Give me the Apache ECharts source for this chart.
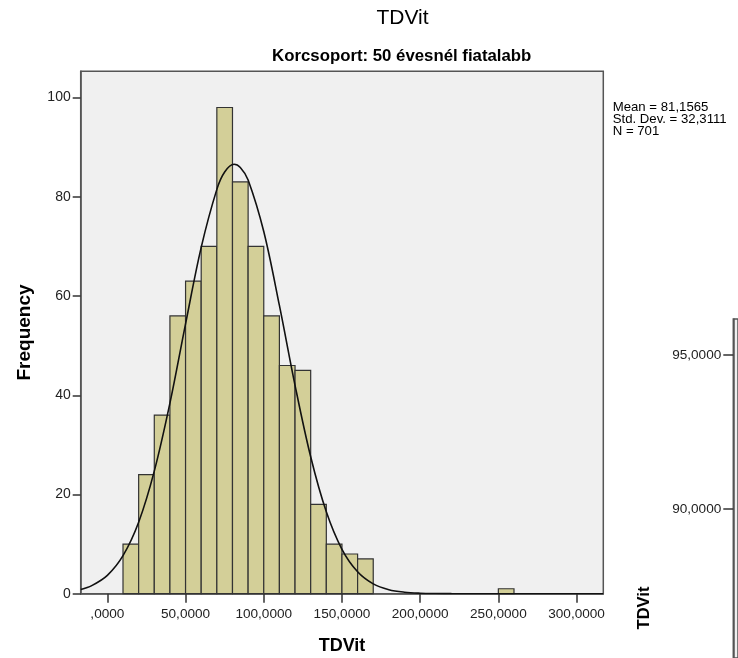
<!DOCTYPE html>
<html>
<head>
<meta charset="utf-8">
<script src="https://cdn.jsdelivr.net/npm/echarts@6/dist/echarts.min.js"></script>
<style>
  html, body { margin: 0; padding: 0; background: #fff; }
  #main { width: 738px; height: 658px; }
</style>
</head>
<body>
<div id="main"></div>
<script>
// histogram bins (lower edges), bin width 10
const binStarts = [10, 20, 30, 40, 50, 60, 70, 80, 90, 100, 110, 120, 130, 140, 150, 160, 250];
const counts = [10, 24, 36, 56, 63, 70, 98, 83, 70, 56, 46, 45, 18, 10, 8, 7, 1];
const binWidth = 10;

// normal curve
const curveX = [-17, -10, 0, 10, 20, 30, 40, 50, 60, 70, 75, 81, 85, 90, 100, 110, 120, 130, 140, 150, 160, 170, 180, 190, 200, 210, 220, 240, 317];
const curveY = [0.86, 1.62, 3.69, 7.66, 14.4, 24.7, 38.4, 54.4, 69.8, 81.5, 85.0, 86.55, 85.9, 83.4, 73.0, 58.1, 42.0, 27.6, 16.5, 8.94, 4.41, 1.97, 0.80, 0.30, 0.10, 0.03, 0.01, 0, 0];

const xTicks = [0, 50, 100, 150, 200, 250, 300];
const yTicks = [0, 20, 40, 60, 80, 100];
const sideTicks = [90, 95];

const statLines = ['Mean = 81,1565', 'Std. Dev. = 32,3111', 'N = 701'];

const fmt = v => (v === 0 ? '' : String(v)) + ',0000';

const chart = echarts.init(document.getElementById('main'));
const sans = 'Liberation Sans, Arial, sans-serif';

const histData = binStarts.map((s, i) => [s, s + binWidth, counts[i]]);
const curveData = curveX.map((x, i) => [x, curveY[i]]);

const option = {
  backgroundColor: '#fff',
  animation: false,
  grid: [
    { left: 80.7, top: 71.3, right: 134.7, bottom: 64.3, show: true, outerBoundsMode: 'none',
      backgroundColor: '#f0f0f0', borderColor: '#555', borderWidth: 1.5 },
    { left: 733.3, top: 319, right: 0, bottom: 0, show: true, outerBoundsMode: 'none',
      backgroundColor: '#f0f0f0', borderColor: '#555', borderWidth: 1.5 }
  ],
  xAxis: [
    {
      type: 'value', min: -17.05, max: 317.1,
      name: 'TDVit', nameLocation: 'middle', nameGap: 43,
      nameTextStyle: { fontFamily: sans, fontWeight: 'bold', fontSize: 18, color: '#000' },
      axisLine: { show: true, onZero: false, lineStyle: { color: '#555', width: 1.5 } },
      axisTick: { show: true, length: 9, customValues: xTicks, lineStyle: { color: '#333', width: 1.5 } },
      axisLabel: { customValues: xTicks, formatter: fmt, fontFamily: sans, fontSize: 13.6, color: '#222', margin: 14 },
      splitLine: { show: false }
    },
    { gridIndex: 1, type: 'value', show: false }
  ],
  yAxis: [
    {
      type: 'value', min: 0, max: 105.3,
      name: 'Frequency', nameLocation: 'middle', nameGap: 46,
      nameTextStyle: { fontFamily: sans, fontWeight: 'bold', fontSize: 19, color: '#000' },
      axisLine: { show: true, onZero: false, lineStyle: { color: '#555', width: 1.5 } },
      axisTick: { show: true, length: 8, customValues: yTicks, lineStyle: { color: '#333', width: 1.5 } },
      axisLabel: { customValues: yTicks, fontFamily: sans, fontSize: 14, color: '#222', margin: 10 },
      splitLine: { show: false }
    },
    {
      gridIndex: 1, type: 'value', min: 85.163, max: 96.169,
      axisLine: { show: true, onZero: false, lineStyle: { color: '#555', width: 1.5 } },
      axisTick: { show: true, length: 10, customValues: sideTicks, lineStyle: { color: '#333', width: 1.5 } },
      axisLabel: { customValues: sideTicks, formatter: fmt, fontFamily: sans, fontSize: 13.6, color: '#222', margin: 12 },
      splitLine: { show: false }
    }
  ],
  series: [
    {
      type: 'custom',
      data: histData,
      encode: { x: [0, 1], y: 2 },
      renderItem: function (params, api) {
        const p0 = api.coord([api.value(0), 0]);
        const p1 = api.coord([api.value(1), api.value(2)]);
        return {
          type: 'rect',
          shape: { x: p0[0], y: p1[1], width: p1[0] - p0[0], height: p0[1] - p1[1] },
          style: { fill: '#d3cf98', stroke: '#333', lineWidth: 1.2 }
        };
      }
    },
    {
      type: 'line',
      data: curveData,
      smooth: 0.35,
      showSymbol: false,
      clip: true,
      lineStyle: { color: '#111', width: 1.6 },
      z: 5
    }
  ],
  graphic: [
    { type: 'text', x: 402.5, y: 18, style: { text: 'TDVit', fontFamily: sans, fontSize: 21, fill: '#000', textAlign: 'center', textVerticalAlign: 'middle' } },
    { type: 'text', x: 401.7, y: 56, style: { text: 'Korcsoport: 50 évesnél fiatalabb', fontFamily: sans, fontWeight: 'bold', fontSize: 16.8, fill: '#000', textAlign: 'center', textVerticalAlign: 'middle' } },
    { type: 'text', x: 612.7, y: 101, style: { text: statLines.join('\n'), fontFamily: sans, fontSize: 13.2, lineHeight: 12, fill: '#000', textAlign: 'left', textVerticalAlign: 'top' } },
    { type: 'text', x: 644, y: 608, rotation: Math.PI / 2, style: { text: 'TDVit', fontFamily: sans, fontWeight: 'bold', fontSize: 16.5, fill: '#000', textAlign: 'center', textVerticalAlign: 'middle' } }
  ]
};

chart.setOption(option);
</script>
</body>
</html>
